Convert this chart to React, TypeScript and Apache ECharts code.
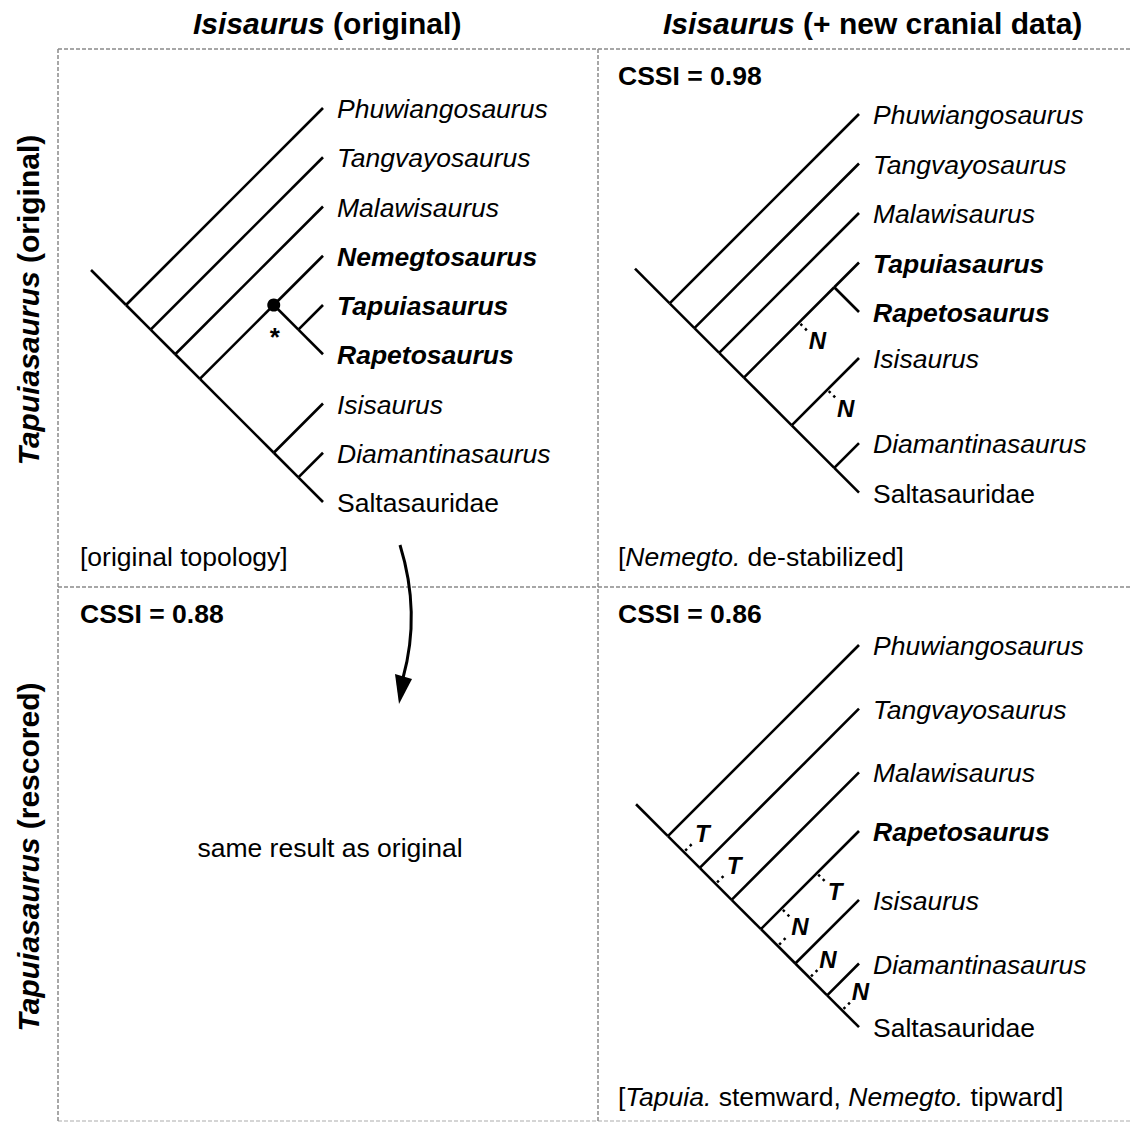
import React, { useEffect, useRef } from "react";
import * as echarts from "echarts";

const FONT = '"Liberation Sans", Arial, Helvetica, sans-serif';
const LABEL_SIZE = 26.5;

type Tree = string | Tree[];

// ---- Data: tree topologies (nested clades) and tip rows ----
const TREE_ORIGINAL: Tree = [
  "Phuwiangosaurus",
  ["Tangvayosaurus", ["Malawisaurus", [["Nemegtosaurus", ["Tapuiasaurus", "Rapetosaurus"]], ["Isisaurus", ["Diamantinasaurus", "Saltasauridae"]]]]],
];
const ROWS_ORIGINAL = [0, 1, 2, 3, 4, 5, 6, 7, 8];

const TREE_CRANIAL: Tree = [
  "Phuwiangosaurus",
  ["Tangvayosaurus", ["Malawisaurus", [["Tapuiasaurus", "Rapetosaurus"], ["Isisaurus", ["Diamantinasaurus", "Saltasauridae"]]]]],
];
const ROWS_CRANIAL = [0, 1, 2, 3, 4, 4.93, 6.65, 7.65];

const TREE_RESCORED: Tree = [
  "Phuwiangosaurus",
  ["Tangvayosaurus", ["Malawisaurus", ["Rapetosaurus", ["Isisaurus", ["Diamantinasaurus", "Saltasauridae"]]]]],
];
const ROWS_RESCORED = [0, 1, 2, 2.92, 4, 5, 6];

const BOLD_TAXA = ["Nemegtosaurus", "Tapuiasaurus", "Rapetosaurus"];
const UPRIGHT_TAXA = ["Saltasauridae"];

// markers: branch identified by the tips it subtends, position along branch (0 = parent node, 1 = child)
const MARKS_ORIGINAL = [{ clade: ["Nemegtosaurus", "Rapetosaurus"], frac: 1, label: "*", kind: "dot" }];
const MARKS_CRANIAL = [
  { clade: ["Tapuiasaurus", "Rapetosaurus"], frac: 0.61, label: "N", kind: "tick" },
  { clade: ["Isisaurus"], frac: 0.53, label: "N", kind: "tick" },
];
const MARKS_RESCORED = [
  { clade: ["Tangvayosaurus", "Saltasauridae"], frac: 0.5, label: "T", kind: "tick" },
  { clade: ["Malawisaurus", "Saltasauridae"], frac: 0.5, label: "T", kind: "tick" },
  { clade: ["Rapetosaurus"], frac: 0.57, label: "T", kind: "tick" },
  { clade: ["Rapetosaurus"], frac: 0.21, label: "N", kind: "tick" },
  { clade: ["Isisaurus", "Saltasauridae"], frac: 0.49, label: "", kind: "tick" },
  { clade: ["Diamantinasaurus", "Saltasauridae"], frac: 0.45, label: "N", kind: "tick" },
  { clade: ["Saltasauridae"], frac: 0.47, label: "N", kind: "tick" },
];

const CSSI_LABELS = ["CSSI = 0.98", "CSSI = 0.88", "CSSI = 0.86"];

// ---- layout helper (slanted cladogram: node depth = half its row span) ----
function layoutTree(tree: Tree, rows: number[], stem: number) {
  const nodes: any[] = [];
  let k = 0;
  const walk = (t: Tree, parent: any): any => {
    if (typeof t === "string") {
      const r = rows[k++];
      const n = { key: t, tip: t, first: t, last: t, lo: r, hi: r, row: r, depth: 0, parent };
      nodes.push(n);
      return n;
    }
    const n: any = { parent };
    nodes.push(n);
    const kids = t.map((c) => walk(c, n));
    n.first = kids[0].first;
    n.last = kids[kids.length - 1].last;
    n.key = n.first + "|" + n.last;
    n.lo = kids[0].lo;
    n.hi = kids[kids.length - 1].hi;
    n.row = (n.lo + n.hi) / 2;
    n.depth = -(n.hi - n.lo) / 2;
    return n;
  };
  const root = walk(tree, null);
  const base = { depth: root.depth - stem, row: root.row - stem };
  const from = (n: any) => n.parent || base;
  const find = (key: string) => nodes.find((n) => n.key === key);
  return { nodes, from, find };
}

const PANELS = [
  { tree: TREE_ORIGINAL, rows: ROWS_ORIGINAL, marks: MARKS_ORIGINAL, stem: 0.71, tipX: 323, row0Y: 108, rowPx: 49.25 },
  { tree: TREE_CRANIAL, rows: ROWS_CRANIAL, marks: MARKS_CRANIAL, stem: 0.7, tipX: 859, row0Y: 114, rowPx: 49.5 },
  { tree: TREE_RESCORED, rows: ROWS_RESCORED, marks: MARKS_RESCORED, stem: 0.5, tipX: 859, row0Y: 645, rowPx: 63.7 },
];

function richDefs(size: number, bold: boolean) {
  const w = bold ? "bold" : "normal";
  return {
    i: { fontFamily: FONT, fontSize: size, fontStyle: "italic", fontWeight: w, fill: "#000" },
    n: { fontFamily: FONT, fontSize: size, fontStyle: "normal", fontWeight: w, fill: "#000" },
  };
}

function textEl(x: number, y: number, text: string, size: number, o: any = {}) {
  return {
    type: "text",
    x,
    y,
    rotation: o.rotation || 0,
    silent: true,
    style: {
      text,
      fontFamily: FONT,
      fontSize: size,
      fontWeight: o.bold ? "bold" : "normal",
      fontStyle: o.italic ? "italic" : "normal",
      fill: "#000",
      align: o.align || "left",
      verticalAlign: "middle",
      rich: o.rich,
    },
  };
}

function dashLine(x1: number, y1: number, x2: number, y2: number, color = "#8a8a8a") {
  return {
    type: "line",
    silent: true,
    shape: { x1, y1, x2, y2 },
    style: { stroke: color, lineWidth: 1.5, lineDash: [4, 2] },
  };
}

function buildOption() {
  const grid: any[] = [];
  const xAxis: any[] = [];
  const yAxis: any[] = [];
  const series: any[] = [];

  PANELS.forEach((p, i) => {
    const yMax = Math.ceil(Math.max(...p.rows)) + 1;
    grid.push({ left: p.tipX - 6 * p.rowPx, top: p.row0Y - p.rowPx, width: 6 * p.rowPx, height: (yMax + 1) * p.rowPx });
    xAxis.push({ gridIndex: i, type: "value", min: -6, max: 0, show: false });
    yAxis.push({ gridIndex: i, type: "value", min: -1, max: yMax, inverse: true, show: false });

    const L = layoutTree(p.tree, p.rows, p.stem);
    const segs = L.nodes.map((n) => {
      const a = L.from(n);
      return [a.depth, a.row, n.depth, n.row];
    });
    const tips = L.nodes.filter((n) => n.tip);
    const marks = p.marks;
    const markData = marks.map((m) => {
      const n = L.find(m.clade.join("|"));
      const a = L.from(n);
      const x = a.depth + m.frac * (n.depth - a.depth);
      const y = a.row + m.frac * (n.row - a.row);
      return m.kind === "dot" ? [n.depth, n.row, n.depth, n.row] : [x, y, n.depth, n.row];
    });

    series.push({
      type: "custom",
      xAxisIndex: i,
      yAxisIndex: i,
      silent: true,
      data: segs,
      renderItem: (_: any, api: any) => {
        const a = api.coord([api.value(0), api.value(1)]);
        const b = api.coord([api.value(2), api.value(3)]);
        return {
          type: "line",
          shape: { x1: a[0], y1: a[1], x2: b[0], y2: b[1] },
          style: { stroke: "#000", lineWidth: 2.6, lineCap: "butt" },
        };
      },
    });

    series.push({
      type: "custom",
      xAxisIndex: i,
      yAxisIndex: i,
      silent: true,
      data: tips.map((t) => [t.depth, t.row]),
      renderItem: (params: any, api: any) => {
        const name = tips[params.dataIndex].tip;
        const c = api.coord([api.value(0), api.value(1)]);
        const bold = BOLD_TAXA.includes(name);
        const italic = !UPRIGHT_TAXA.includes(name);
        return {
          type: "text",
          x: c[0] + 14,
          y: c[1] + 1,
          style: {
            text: name,
            fontFamily: FONT,
            fontSize: LABEL_SIZE,
            fontWeight: bold ? "bold" : "normal",
            fontStyle: italic ? "italic" : "normal",
            fill: "#000",
            align: "left",
            verticalAlign: "middle",
          },
        };
      },
    });

    series.push({
      type: "custom",
      xAxisIndex: i,
      yAxisIndex: i,
      silent: true,
      data: markData,
      renderItem: (params: any, api: any) => {
        const m = marks[params.dataIndex];
        const p0 = api.coord([api.value(0), api.value(1)]);
        if (m.kind === "dot") {
          return {
            type: "group",
            children: [
              { type: "circle", shape: { cx: p0[0], cy: p0[1], r: 6.5 }, style: { fill: "#000" } },
              {
                type: "text",
                x: p0[0] + 1,
                y: p0[1] + 32,
                style: { text: m.label, fontFamily: FONT, fontSize: 26, fontWeight: "bold", fill: "#000", align: "center", verticalAlign: "middle" },
              },
            ],
          };
        }
        const q = api.coord([api.value(2), api.value(3)]);
        let dx = q[0] - p0[0];
        let dy = q[1] - p0[1];
        const len = Math.hypot(dx, dy) || 1;
        dx /= len;
        dy /= len;
        let px = -dy;
        let py = dx;
        if (px < 0) {
          px = -px;
          py = -py;
        }
        const children: any[] = [
          {
            type: "line",
            shape: { x1: p0[0] + px * 2, y1: p0[1] + py * 2, x2: p0[0] + px * 12, y2: p0[1] + py * 12 },
            style: { stroke: "#000", lineWidth: 2.5, lineDash: [2.5, 4] },
          },
        ];
        if (m.label) {
          children.push({
            type: "text",
            x: p0[0] + px * 26,
            y: p0[1] + py * 26,
            style: { text: m.label, fontFamily: FONT, fontSize: 24, fontWeight: "bold", fontStyle: "italic", fill: "#000", align: "center", verticalAlign: "middle" },
          });
        }
        return { type: "group", children };
      },
    });
  });

  const graphic: any[] = [
    dashLine(58, 49, 1131, 49),
    dashLine(58, 587, 1131, 587),
    dashLine(58, 1121, 1131, 1121, "#c8c8c8"),
    dashLine(58, 49, 58, 1123),
    dashLine(598, 49, 598, 1123),
    textEl(193, 23, "{i|Isisaurus }{n|(original)}", 30, { bold: true, rich: richDefs(30, true) }),
    textEl(663, 23, "{i|Isisaurus }{n|(+ new cranial data)}", 30, { bold: true, rich: richDefs(30, true) }),
    textEl(28, 300, "{i|Tapuiasaurus }{n|(original)}", 30, { bold: true, align: "center", rotation: Math.PI / 2, rich: richDefs(30, true) }),
    textEl(28, 857, "{i|Tapuiasaurus }{n|(rescored)}", 30, { bold: true, align: "center", rotation: Math.PI / 2, rich: richDefs(30, true) }),
    textEl(618, 76, CSSI_LABELS[0], LABEL_SIZE, { bold: true }),
    textEl(80, 614, CSSI_LABELS[1], LABEL_SIZE, { bold: true }),
    textEl(618, 614, CSSI_LABELS[2], LABEL_SIZE, { bold: true }),
    textEl(80, 557, "[original topology]", LABEL_SIZE),
    textEl(618, 557, "{n|[}{i|Nemegto. }{n|de-stabilized]}", LABEL_SIZE, { rich: richDefs(LABEL_SIZE, false) }),
    textEl(618, 1097, "{n|[}{i|Tapuia. }{n|stemward, }{i|Nemegto. }{n|tipward]}", LABEL_SIZE, { rich: richDefs(LABEL_SIZE, false) }),
    textEl(330, 848, "same result as original", LABEL_SIZE, { align: "center" }),
    {
      type: "bezierCurve",
      silent: true,
      shape: { x1: 400, y1: 545, x2: 403, y2: 678, cpx1: 421, cpy1: 613 },
      style: { stroke: "#000", lineWidth: 3, fill: "none" },
    },
    {
      type: "polygon",
      silent: true,
      shape: { points: [[395, 674], [412, 679], [399, 704]] },
      style: { fill: "#000" },
    },
  ];

  return {
    animation: false,
    backgroundColor: "#fff",
    grid,
    xAxis,
    yAxis,
    series,
    graphic,
  };
}

export default function App() {
  const ref = useRef<HTMLDivElement>(null);
  useEffect(() => {
    document.body.style.margin = "0";
    const chart = echarts.init(ref.current!, null, { renderer: "svg" });
    chart.setOption(buildOption() as any);
    return () => chart.dispose();
  }, []);
  return (
    <div
      ref={ref}
      style={{ width: 1131, height: 1123, position: "absolute", left: 0, top: 0, background: "#fff" }}
    />
  );
}
